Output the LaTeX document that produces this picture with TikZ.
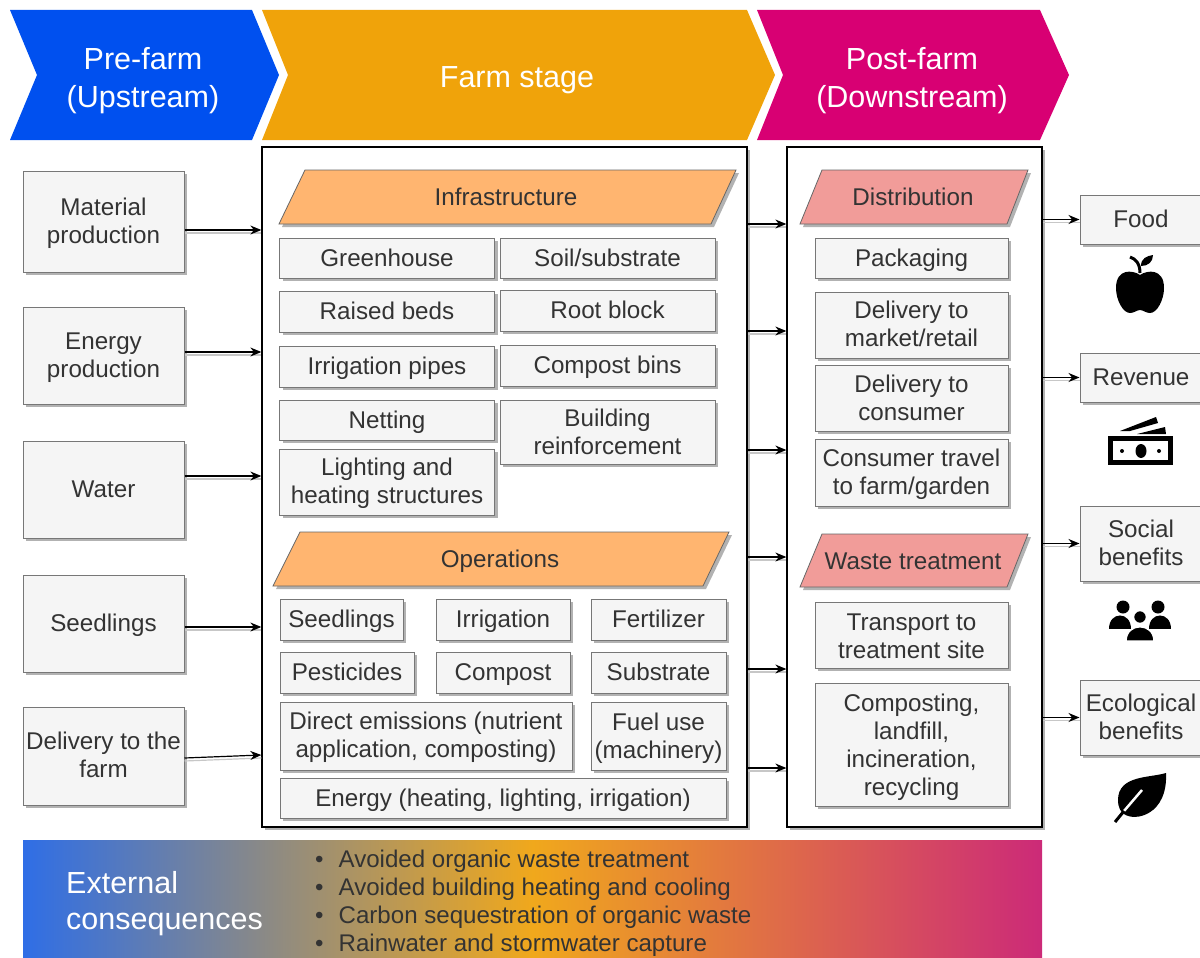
\documentclass[tikz,border=0pt]{standalone}
\usepackage{fontspec}
\setmainfont{Liberation Sans}
\usepackage{xcolor}
\usetikzlibrary{shadows, arrows.meta}

\definecolor{upblue}{HTML}{0050EF}
\definecolor{farmorange}{HTML}{F0A30A}
\definecolor{downpink}{HTML}{D80073}
\definecolor{paraorange}{HTML}{FFB570}
\definecolor{parapink}{HTML}{F19C99}
\definecolor{boxfill}{HTML}{F5F5F5}
\definecolor{boxline}{HTML}{777777}
\definecolor{boxtext}{HTML}{333333}
\definecolor{bandblue}{HTML}{2F6EE6}
\definecolor{bandorange}{HTML}{F0A81C}
\definecolor{bandpink}{HTML}{CC2A78}

\begin{document}
\begin{tikzpicture}[x=1pt, y=-1pt,
    softshadow/.style={drop shadow={shadow xshift=3pt, shadow yshift=-3pt, fill=black, opacity=0.3}},
    basebox/.style={draw=boxline, line width=1pt, fill=boxfill, text=boxtext, inner sep=0pt, align=center,
      font=\fontsize{24.2}{28}\selectfont, softshadow},
    procbox/.style={basebox, text height=21pt, text depth=5pt},
    tallbox/.style={basebox, text height=#1pt, text depth=5pt},
    tallbox/.default=48,
    stagebox/.style={draw=black, line width=1.3pt, fill=white, inner sep=0pt, softshadow},
    parashape/.style={line width=0.8pt, softshadow},
    stagetext/.style={text=white, inner sep=0pt, align=center, font=\fontsize{30.5}{38}\selectfont},
    paratext/.style={text=boxtext, inner sep=0pt, text height=21pt, text depth=5pt, font=\fontsize{24.2}{28}\selectfont},
    flowarrow/.style={line width=1.2pt, black, -{Stealth[length=11pt, width=9pt]},
      preaction={draw=black!22, -, line width=1.2pt, transform canvas={yshift=-3pt}}}]
  \useasboundingbox (0,0) rectangle (1200,958);

  % Stage chevrons
  \fill[upblue] (10,10) -- (252,10) -- (279,75) -- (252,140) -- (10,140) -- (37,75) -- cycle;
  \fill[farmorange] (262,10) -- (747,10) -- (775,75) -- (747,140) -- (262,140) -- (288,75) -- cycle;
  \fill[downpink] (757,10) -- (1040,10) -- (1069,75) -- (1040,140) -- (757,140) -- (783,75) -- cycle;
  \node[stagetext] (prefarm) at (143,81) {Pre-farm\\(Upstream)};
  \node[stagetext] (farmstage) at (517,80) {Farm stage};
  \node[stagetext] (postfarm) at (912,81) {Post-farm\\(Downstream)};

  % Stage frames
  \node[stagebox, minimum width=485, minimum height=680] (farmbox) at (504.5,487) {};
  \node[stagebox, minimum width=255, minimum height=680] (postbox) at (914.5,487) {};

  % Upstream inputs
  \node[tallbox, minimum width=161, minimum height=101] (material) at (103.5,221.5) {Material\\production};
  \node[tallbox, minimum width=161, minimum height=97] (energyprod) at (103.5,355.5) {Energy\\production};
  \node[procbox, minimum width=161, minimum height=97] (water) at (103.5,489.5) {Water};
  \node[procbox, minimum width=161, minimum height=97] (seedlingsin) at (103.5,623.5) {Seedlings};
  \node[tallbox=47, minimum width=161, minimum height=98] (delivery) at (103.5,756) {Delivery to the\\farm};

  % Infrastructure
  \draw[parashape, draw=black!60, fill=paraorange] (279,224) -- (305,170) -- (736,170) -- (711,224) -- cycle;
  \node[paratext] (infra) at (506,197) {Infrastructure};
  \node[procbox, minimum width=215, minimum height=40] (greenhouse) at (387,258) {Greenhouse};
  \node[procbox, minimum width=215, minimum height=40] (soil) at (607.5,258) {Soil/substrate};
  \node[procbox, minimum width=215, minimum height=41] (raised) at (387,311.5) {Raised beds};
  \node[procbox, minimum width=215, minimum height=41] (rootblock) at (607.5,310.5) {Root block};
  \node[procbox, minimum width=215, minimum height=41] (pipes) at (387,366.5) {Irrigation pipes};
  \node[procbox, minimum width=215, minimum height=41] (bins) at (607.5,365.5) {Compost bins};
  \node[procbox, minimum width=215, minimum height=40] (netting) at (387,420) {Netting};
  \node[tallbox=49, minimum width=215, minimum height=64] (reinforce) at (607.5,432) {Building\\reinforcement};
  \node[tallbox=47, minimum width=215, minimum height=66] (lighting) at (387,482) {Lighting and\\heating structures};

  % Operations
  \draw[parashape, draw=black!60, fill=paraorange] (273,586) -- (300,532) -- (729,532) -- (703,586) -- cycle;
  \node[paratext] (operations) at (500,559) {Operations};
  \node[procbox, minimum width=123, minimum height=41] (seedlings) at (341.5,619.5) {Seedlings};
  \node[procbox, minimum width=134, minimum height=41] (irrigation) at (503,619.5) {Irrigation};
  \node[procbox, minimum width=135, minimum height=41] (fertilizer) at (658.5,619.5) {Fertilizer};
  \node[procbox, minimum width=134, minimum height=41] (pesticides) at (347,672.5) {Pesticides};
  \node[procbox, minimum width=134, minimum height=41] (compost) at (503,672.5) {Compost};
  \node[procbox, minimum width=135, minimum height=41] (substrate) at (658.5,672.5) {Substrate};
  \node[tallbox=47, minimum width=292, minimum height=68] (emissions) at (426,736) {Direct emissions (nutrient\\application, composting)};
  \node[tallbox=49, minimum width=135, minimum height=68] (fuel) at (658.5,736) {Fuel use\\(machinery)};
  \node[procbox, minimum width=446, minimum height=40] (energyuse) at (503,798) {Energy (heating, lighting, irrigation)};

  % Distribution
  \draw[parashape, draw=black!60, fill=parapink] (800,224) -- (822,170) -- (1028,170) -- (1007,224) -- cycle;
  \node[paratext] (distribution) at (913,197) {Distribution};
  \node[procbox, minimum width=193, minimum height=40] (packaging) at (911.5,258) {Packaging};
  \node[tallbox=47, minimum width=193, minimum height=66] (market) at (911.5,325) {Delivery to\\market/retail};
  \node[tallbox=49, minimum width=193, minimum height=66] (consumer) at (911.5,398) {Delivery to\\consumer};
  \node[tallbox, minimum width=193, minimum height=67] (travel) at (911.5,472.5) {Consumer travel\\to farm/garden};

  % Waste treatment
  \draw[parashape, draw=black!60, fill=parapink] (800,587) -- (822,534) -- (1028,534) -- (1007,587) -- cycle;
  \node[paratext] (waste) at (913,561) {Waste treatment};
  \node[tallbox=51, minimum width=193, minimum height=66] (transport) at (911.5,635) {Transport to\\treatment site};
  \node[tallbox=106, minimum width=193, minimum height=123] (composting) at (911.5,744.5) {Composting,\\landfill,\\incineration,\\recycling};

  % Outcomes
  \node[procbox, minimum width=122, minimum height=49] (food) at (1141,219.5) {Food};
  \node[procbox, minimum width=122, minimum height=49] (revenue) at (1141,377.5) {Revenue};
  \node[tallbox, minimum width=122, minimum height=75] (social) at (1141,543.5) {Social\\benefits};
  \node[tallbox, minimum width=122, minimum height=75] (ecological) at (1141,717.5) {Ecological\\benefits};

  % Arrows into the farm stage
  \draw[flowarrow] (material.east |- 0,230) -- (farmbox.west |- 0,230);
  \draw[flowarrow] (energyprod.east |- 0,352) -- (farmbox.west |- 0,352);
  \draw[flowarrow] (water.east |- 0,476) -- (farmbox.west |- 0,476);
  \draw[flowarrow] (seedlingsin.east |- 0,627) -- (farmbox.west |- 0,627);
  \draw[flowarrow] (delivery.east |- 0,758) -- (farmbox.west |- 0,755);
  % Arrows farm stage to post-farm
  \draw[flowarrow] (farmbox.east |- 0,224) -- (postbox.west |- 0,224);
  \draw[flowarrow] (farmbox.east |- 0,331) -- (postbox.west |- 0,331);
  \draw[flowarrow] (farmbox.east |- 0,450) -- (postbox.west |- 0,450);
  \draw[flowarrow] (farmbox.east |- 0,557) -- (postbox.west |- 0,557);
  \draw[flowarrow] (farmbox.east |- 0,669) -- (postbox.west |- 0,669);
  \draw[flowarrow] (farmbox.east |- 0,768) -- (postbox.west |- 0,768);
  % Arrows to outcomes
  \draw[flowarrow] (postbox.east |- food.west) -- (food.west);
  \draw[flowarrow] (postbox.east |- revenue.west) -- (revenue.west);
  \draw[flowarrow] (postbox.east |- social.west) -- (social.west);
  \draw[flowarrow] (postbox.east |- ecological.west) -- (ecological.west);

  % Apple icon
  \fill (1140,275) .. controls (1133,270) and (1116,268) .. (1116,288) .. controls (1116,300) and (1123,313) .. (1130,313)
    .. controls (1134,313) and (1137,310) .. (1140,310) .. controls (1143,310) and (1146,313) .. (1150,313)
    .. controls (1157,313) and (1164,300) .. (1164,288) .. controls (1164,268) and (1147,270) .. (1140,275) -- cycle;
  \draw[line width=3pt] (1130,257) .. controls (1136,259) and (1140,264) .. (1140,273);
  \fill (1141,266) .. controls (1141,258) and (1147,256) .. (1153,255) .. controls (1153,262) and (1148,266) .. (1141,266) -- cycle;

  % Money icon
  \fill (1108,436) rectangle (1173,465);
  \fill[white] (1113,441) rectangle (1168,460);
  \fill (1141,451) ellipse (5.5 and 7);
  \fill (1122,451) circle (2);
  \fill (1159,451) circle (2);
  \fill (1120,431) -- (1156,417) -- (1158,423) -- (1130,431) -- cycle;
  \fill (1137,434) -- (1165,427) -- (1166,434) -- cycle;

  % People icon
  \fill (1123,607) circle (6.5);
  \fill (1158,607) circle (6.5);
  \fill (1109,629) .. controls (1109,611) and (1131,611) .. (1131,629) -- cycle;
  \fill (1149,629) .. controls (1149,611) and (1171,611) .. (1171,629) -- cycle;
  \filldraw[draw=white, line width=1.5pt] (1140,617) circle (6.5);
  \filldraw[draw=white, line width=1.5pt] (1126,641) .. controls (1126,622) and (1154,622) .. (1154,641) -- cycle;

  % Leaf icon
  \fill (1166,773) .. controls (1150,778) and (1118,775) .. (1118,800) .. controls (1118,808) and (1121,812) .. (1124,814)
    .. controls (1135,822) and (1168,815) .. (1166,773) -- cycle;
  \draw[white, line width=2.5pt] (1124,811) -- (1142,790);
  \draw[line width=3pt] (1115,822) -- (1124,811);

  % External consequences
  \shade[left color=bandblue, right color=bandpink, middle color=bandorange, draw=none]
    (23,840) rectangle (1042,958);
  \node[stagetext, align=left, anchor=west, font=\fontsize{30.5}{36}\selectfont] (external) at (66,904) {External\\consequences};
  \node[inner sep=0pt, anchor=west, align=left, text=boxtext, font=\fontsize{24.1}{28}\selectfont] (benefits) at (315,903)
    {\textbullet\hspace{15pt}Avoided organic waste treatment\\
     \textbullet\hspace{15pt}Avoided building heating and cooling\\
     \textbullet\hspace{15pt}Carbon sequestration of organic waste\\
     \textbullet\hspace{15pt}Rainwater and stormwater capture};
\end{tikzpicture}
\end{document}
